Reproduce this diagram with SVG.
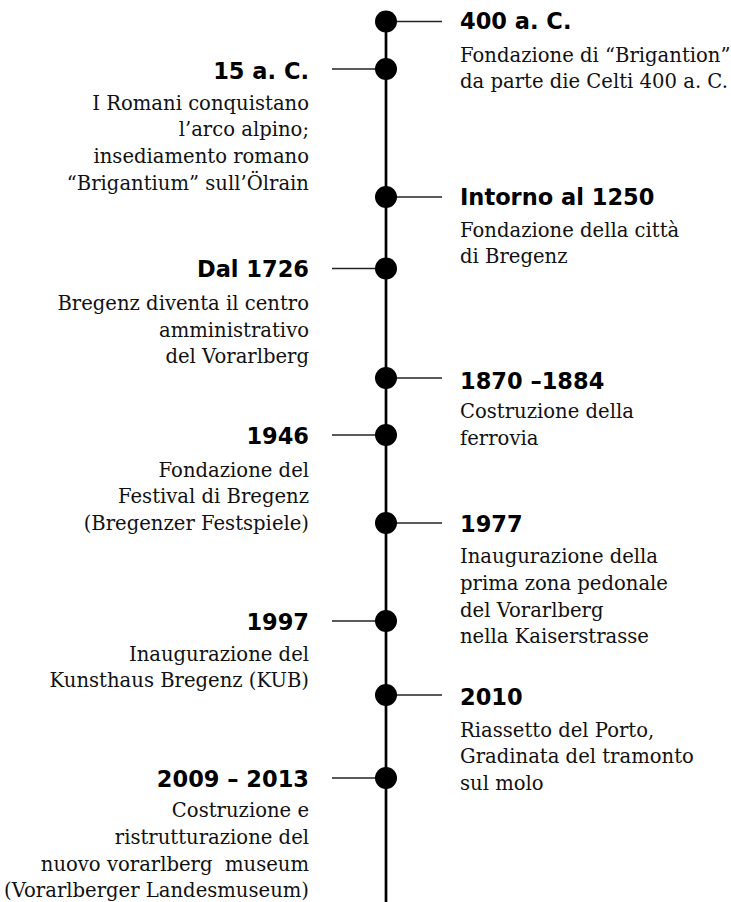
<svg xmlns="http://www.w3.org/2000/svg" width="731" height="902" viewBox="0 0 731 902">
<style>
.h{font-family:"DejaVu Sans",sans-serif;font-weight:bold;font-size:22.5px;fill:#000}
.b{font-family:"DejaVu Serif",serif;font-size:19.6px;fill:#111}
.r{text-anchor:start}
.l{text-anchor:end}
.dot{fill:#000}
.tick{stroke:#222;stroke-width:1.3}
.axis{stroke:#000;stroke-width:2.7}
</style>
<rect width="731" height="902" fill="#fff"/>
<g id="connectors">
<line class="axis" x1="386" y1="21" x2="386" y2="902"/>
<line class="tick" x1="386" y1="21.5" x2="442" y2="21.5"/>
<line class="tick" x1="332" y1="69" x2="386" y2="69"/>
<line class="tick" x1="386" y1="197" x2="442" y2="197"/>
<line class="tick" x1="332" y1="268.5" x2="386" y2="268.5"/>
<line class="tick" x1="386" y1="378" x2="442" y2="378"/>
<line class="tick" x1="332" y1="435" x2="386" y2="435"/>
<line class="tick" x1="386" y1="523" x2="442" y2="523"/>
<line class="tick" x1="332" y1="621" x2="386" y2="621"/>
<line class="tick" x1="386" y1="695" x2="442" y2="695"/>
<line class="tick" x1="332" y1="778" x2="386" y2="778"/>
</g>
<g id="n400ac">
<circle class="dot" cx="386" cy="21.5" r="11"/>
<text class="h r" x="460" y="29">400 a. C.</text>
<text class="b r" x="460" y="61.7">Fondazione di “Brigantion”</text>
<text class="b r" x="460" y="88.4">da parte die Celti 400 a. C.</text>
</g>
<g id="n15ac">
<circle class="dot" cx="386" cy="69" r="11"/>
<text class="h l" x="309" y="79">15 a. C.</text>
<text class="b l" x="309" y="109.5">I Romani conquistano</text>
<text class="b l" x="309" y="136.2">l’arco alpino;</text>
<text class="b l" x="309" y="162.9">insediamento romano</text>
<text class="b l" x="309" y="189.6">“Brigantium” sull’Ölrain</text>
</g>
<g id="n1250">
<circle class="dot" cx="386" cy="197" r="11"/>
<text class="h r" x="460" y="205">Intorno al 1250</text>
<text class="b r" x="460" y="236.7">Fondazione della città</text>
<text class="b r" x="460" y="263.4">di Bregenz</text>
</g>
<g id="n1726">
<circle class="dot" cx="386" cy="268.5" r="11"/>
<text class="h l" x="309" y="277">Dal 1726</text>
<text class="b l" x="309" y="310">Bregenz diventa il centro</text>
<text class="b l" x="309" y="336.7">amministrativo</text>
<text class="b l" x="309" y="363.4">del Vorarlberg</text>
</g>
<g id="n1870">
<circle class="dot" cx="386" cy="378" r="11"/>
<text class="h r" x="460" y="389">1870 –1884</text>
<text class="b r" x="460" y="418">Costruzione della</text>
<text class="b r" x="460" y="444.7">ferrovia</text>
</g>
<g id="n1946">
<circle class="dot" cx="386" cy="435" r="11"/>
<text class="h l" x="309" y="443.5">1946</text>
<text class="b l" x="309" y="476.5">Fondazione del</text>
<text class="b l" x="309" y="503.2">Festival di Bregenz</text>
<text class="b l" x="309" y="529.9">(Bregenzer Festspiele)</text>
</g>
<g id="n1977">
<circle class="dot" cx="386" cy="523" r="11"/>
<text class="h r" x="460" y="531.5">1977</text>
<text class="b r" x="460" y="563.3">Inaugurazione della</text>
<text class="b r" x="460" y="590">prima zona pedonale</text>
<text class="b r" x="460" y="616.7">del Vorarlberg</text>
<text class="b r" x="460" y="643.4">nella Kaiserstrasse</text>
</g>
<g id="n1997">
<circle class="dot" cx="386" cy="621" r="11"/>
<text class="h l" x="309" y="630">1997</text>
<text class="b l" x="309" y="660.5">Inaugurazione del</text>
<text class="b l" x="309" y="687.2">Kunsthaus Bregenz (KUB)</text>
</g>
<g id="n2010">
<circle class="dot" cx="386" cy="695" r="11"/>
<text class="h r" x="460" y="705">2010</text>
<text class="b r" x="460" y="736.7">Riassetto del Porto,</text>
<text class="b r" x="460" y="763.4">Gradinata del tramonto</text>
<text class="b r" x="460" y="790.1">sul molo</text>
</g>
<g id="n2009">
<circle class="dot" cx="386" cy="778" r="11"/>
<text class="h l" x="309" y="787">2009 – 2013</text>
<text class="b l" x="309" y="817">Costruzione e</text>
<text class="b l" x="309" y="843.8">ristrutturazione del</text>
<text class="b l" x="309" y="870.5" xml:space="preserve">nuovo vorarlberg  museum</text>
<text class="b l" x="309" y="897.2">(Vorarlberger Landesmuseum)</text>
</g>
</svg>
